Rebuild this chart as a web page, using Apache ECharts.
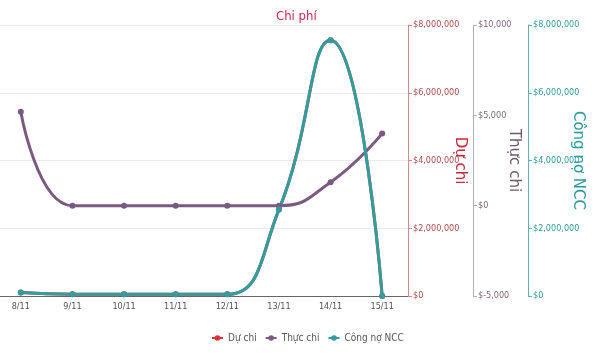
<!DOCTYPE html>
<html><head><meta charset="utf-8">
<script src="https://cdn.jsdelivr.net/npm/echarts@6/dist/echarts.min.js"></script>
<style>html,body{margin:0;padding:0;background:#fff}#c{width:600px;height:361px}</style>
</head><body><div id="c"></div>
<script>
var categories = ['8/11','9/11','10/11','11/11','12/11','13/11','14/11','15/11'];
var duChi = [100000, 50000, 50000, 50000, 50000, 2550000, 7550000, 0];
var thucChi = [5200, 0, 0, 0, 0, 0, 1300, 4000];
var congNo = [100000, 50000, 50000, 50000, 50000, 2550000, 7550000, 0];
var seriesNames = ['Dự chi', 'Thực chi', 'Công nợ NCC'];
var colors = ['#e0303a', '#7b5a82', '#2e9e9e'];

var NF = "'DejaVu Sans Condensed', 'Liberation Sans', sans-serif";
function money(v){ return '$' + Math.round(v).toLocaleString('en-US'); }

var chart = echarts.init(document.getElementById('c'), null, {renderer:'canvas'});
function yAxis(idx, min, max, interval, offset, lineColor, labelColor, nameColor, gap, split){
  return {
    type:'value', position:'right', offset:offset, min:min, max:max, interval:interval,
    name: seriesNames[idx], nameLocation:'middle', nameRotate:-90, nameGap:gap, nameMoveOverlap:false,
    nameTextStyle:{color:nameColor, fontSize:15, fontFamily:"'DejaVu Sans', sans-serif"},
    axisLine:{show:true, lineStyle:{color:lineColor, width:1}},
    axisTick:{show:true, length:4, lineStyle:{color:lineColor}},
    axisLabel:{color:labelColor, fontSize:9, fontFamily:NF, margin:5, formatter:money},
    splitLine:{show:split, lineStyle:{color:'#ebebeb'}}
  };
}
chart.setOption({
  animation:false,
  color: colors,
  title:{text:'Chi phí', left:271, top:5, textStyle:{color:'#d0214b', fontSize:13, fontWeight:'normal', fontFamily:NF}},
  legend:{bottom:13, left:206, itemWidth:11, itemHeight:7, itemGap:8,
    textStyle:{color:'#555', fontSize:10, fontFamily:NF}, data:seriesNames},
  grid:{left:-5, right:192, top:25, bottom:65, outerBoundsMode:'none', containLabel:false},
  xAxis:{type:'category', data:categories, boundaryGap:true,
    axisLine:{lineStyle:{color:'#666'}},
    axisTick:{alignWithLabel:true, length:4, lineStyle:{color:'#999'}},
    axisLabel:{color:'#555', fontSize:9, fontFamily:NF, margin:6},
    splitLine:{show:false}},
  yAxis:[
    yAxis(0, 0, 8000000, 2000000, 0, '#d08a8a', '#b5484a', '#c8283a', 44, true),
    yAxis(1, -5000, 10000, 5000, 65, '#b0b0b0', '#7a6a78', '#6d5a6d', 33, false),
    yAxis(2, 0, 8000000, 2000000, 120, '#5fb3b3', '#2e9e9e', '#2b9a9a', 42, false)
  ],
  series:[
    {name:seriesNames[0], type:'line', yAxisIndex:0, data:duChi, smooth:true, symbol:'circle', symbolSize:6,
      lineStyle:{width:3, color:colors[0]}, itemStyle:{color:colors[0]}},
    {name:seriesNames[1], type:'line', yAxisIndex:1, data:thucChi, smooth:true, symbol:'circle', symbolSize:6,
      lineStyle:{width:3, color:colors[1]}, itemStyle:{color:colors[1]}},
    {name:seriesNames[2], type:'line', yAxisIndex:2, data:congNo, smooth:true, symbol:'circle', symbolSize:6,
      lineStyle:{width:3, color:colors[2]}, itemStyle:{color:colors[2]}}
  ]
});
</script></body></html>
